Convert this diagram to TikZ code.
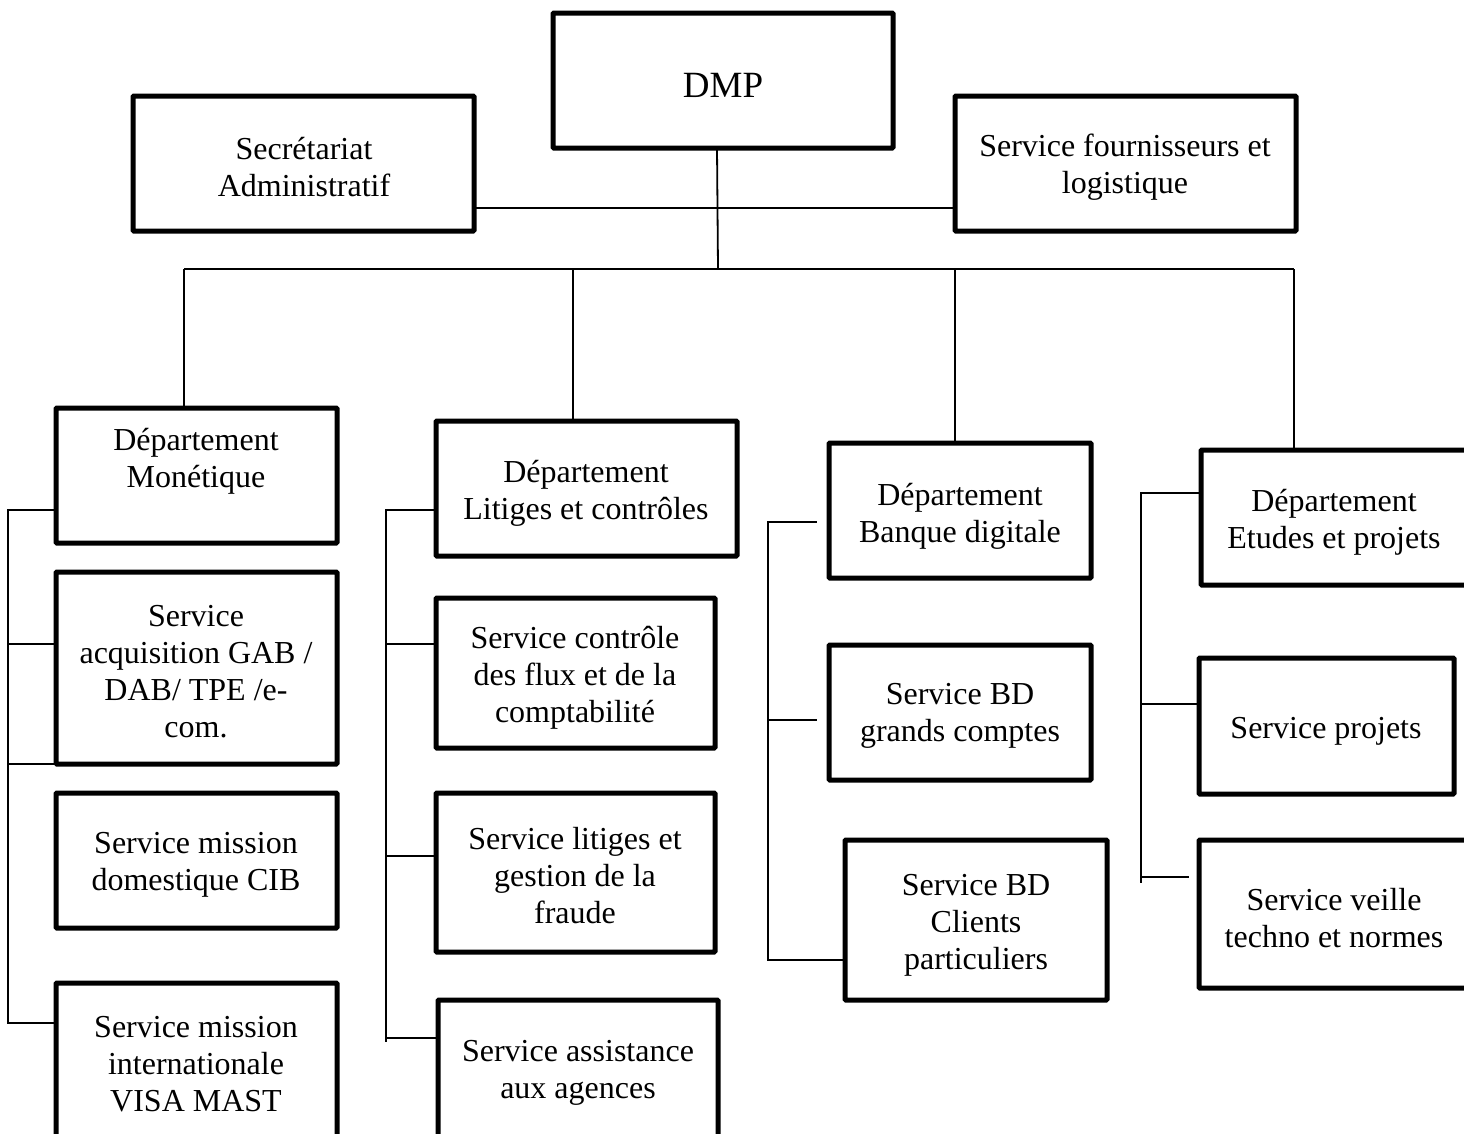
\documentclass[tikz,border=0pt]{standalone}
\usepackage{fontspec}
\setmainfont{Liberation Serif}
\begin{document}
\begin{tikzpicture}[x=1pt,y=-1pt,
  box/.style={draw,line width=5pt,rounded corners=1pt},
  txt/.style={align=center,inner sep=0pt,yshift=-3pt,font=\fontsize{32}{37}\selectfont},
  link/.style={line width=1.8pt}]
\useasboundingbox (0,0) rectangle (1464,1133);
\clip (0,0) rectangle (1464,1133);
% box helper: name, x1, y1, x2, y2
\newcommand\orgbox[5]{\path[box] (#2,#3) rectangle (#4,#5);
  \node[inner sep=0pt,minimum width={#4-#2},minimum height={#5-#3}] (#1) at ({(#2+#4)/2},{(#3+#5)/2}) {};}

% boxes
\orgbox{dmp}{553}{13}{893}{148}
\orgbox{sec}{133}{96}{474}{231}
\orgbox{four}{955}{96}{1296}{231}
\orgbox{mon}{56}{408}{337}{543}
\orgbox{acq}{56}{572}{337}{764}
\orgbox{dom}{56}{793}{337}{928}
\orgbox{int}{56}{983}{337}{1160}
\orgbox{lit}{436}{421}{737}{556}
\orgbox{ctl}{436}{598}{715}{748}
\orgbox{frd}{436}{793}{715}{952}
\orgbox{ass}{438}{1000}{718}{1160}
\orgbox{bdg}{829}{443}{1091}{578}
\orgbox{bgc}{829}{645}{1091}{780}
\orgbox{bcp}{845}{840}{1107}{1000}
\orgbox{etu}{1201}{450}{1490}{585}
\orgbox{prj}{1199}{658}{1454}{794}
\orgbox{vei}{1199}{840}{1490}{988}

% texts
\node[txt,font=\fontsize{37}{42}\selectfont] (tdmp) at (723,82) {DMP};
\node[txt] (tsec) at (304,164.5) {Secrétariat\\Administratif};
\node[txt] (tfour) at (1125,164.5) {Service fournisseurs et\\logistique};
\node[txt] (tmon) at (196,458.5) {Département\\Monétique};
\node[txt] (tacq) at (196,668.5) {Service\\acquisition GAB /\\DAB/ TPE /e-\\com.};
\node[txt] (tdom) at (196,861.5) {Service mission\\domestique CIB};
\node[txt] (tint) at (196,1061) {Service mission\\internationale\\VISA MAST};
\node[txt] (tlit) at (586,490) {Département\\Litiges et contrôles};
\node[txt] (tctl) at (575,675) {Service contrôle\\des flux et de la\\comptabilité};
\node[txt] (tfrd) at (575,872.5) {Service litiges et\\gestion de la\\fraude};
\node[txt] (tass) at (578,1070) {Service assistance\\aux agences};
\node[txt] (tbdg) at (960,513) {Département\\Banque digitale};
\node[txt] (tbgc) at (960,713) {Service BD\\grands comptes};
\node[txt] (tbcp) at (976,922.5) {Service BD\\Clients\\particuliers};
\node[txt] (tetu) at (1334,519) {Département\\Etudes et projets};
\node[txt] (tprj) at (1326,728) {Service projets};
\node[txt] (tvei) at (1334,915) {Service veille\\techno et normes};

% top connectors
\coordinate (hl) at (0,208);
\coordinate (bus) at (0,269);
\coordinate (d1) at (184,269);
\coordinate (d2) at (573,269);
\coordinate (d3) at (955,269);
\coordinate (d4) at (1294,269);
\draw[link] (sec.east |- hl) -- (four.west |- hl);
\draw[link] ([xshift=-6pt]dmp.south) -- ([xshift=-5pt]dmp.south |- bus);
\draw[link] (d1) -- (d4);
\draw[link] (d1) -- (d1 |- mon.north);
\draw[link] (d2) -- (d2 |- lit.north);
\draw[link] (d3) -- (d3 |- bdg.north);
\draw[link] (d4) -- (d4 |- etu.north);

% Monetique branch
\coordinate (m1) at (8,510);
\coordinate (m2) at (8,644);
\coordinate (m3) at (8,764);
\coordinate (m4) at (8,1023);
\draw[link] (mon.west |- m1) -- (m1) -- (m4) -- (int.west |- m4);
\draw[link] (m2) -- (acq.west |- m2);
\draw[link] (m3) -- (acq.west |- m3);

% Litiges branch
\coordinate (l1) at (386,510);
\coordinate (l2) at (386,644);
\coordinate (l3) at (386,856);
\coordinate (l4) at (386,1038);
\coordinate (l5) at (386,1042);
\draw[link] (lit.west |- l1) -- (l1) -- (l5);
\draw[link] (l2) -- (ctl.west |- l2);
\draw[link] (l3) -- (frd.west |- l3);
\draw[link] (l4) -- (ass.west |- l4);

% Banque digitale branch
\coordinate (g1) at (768,522);
\coordinate (g2) at (768,720);
\coordinate (g3) at (768,960);
\draw[link] ([xshift=-12pt]bdg.west |- g1) -- (g1) -- (g3) -- (bcp.west |- g3);
\draw[link] (g2) -- ([xshift=-12pt]bgc.west |- g2);

% Etudes branch
\coordinate (e1) at (1141,493);
\coordinate (e2) at (1141,704);
\coordinate (e3) at (1141,877);
\coordinate (e4) at (1141,883);
\draw[link] (etu.west |- e1) -- (e1) -- (e4);
\draw[link] (e2) -- (prj.west |- e2);
\draw[link] (e3) -- ([xshift=-10pt]vei.west |- e3);
\end{tikzpicture}
\end{document}
